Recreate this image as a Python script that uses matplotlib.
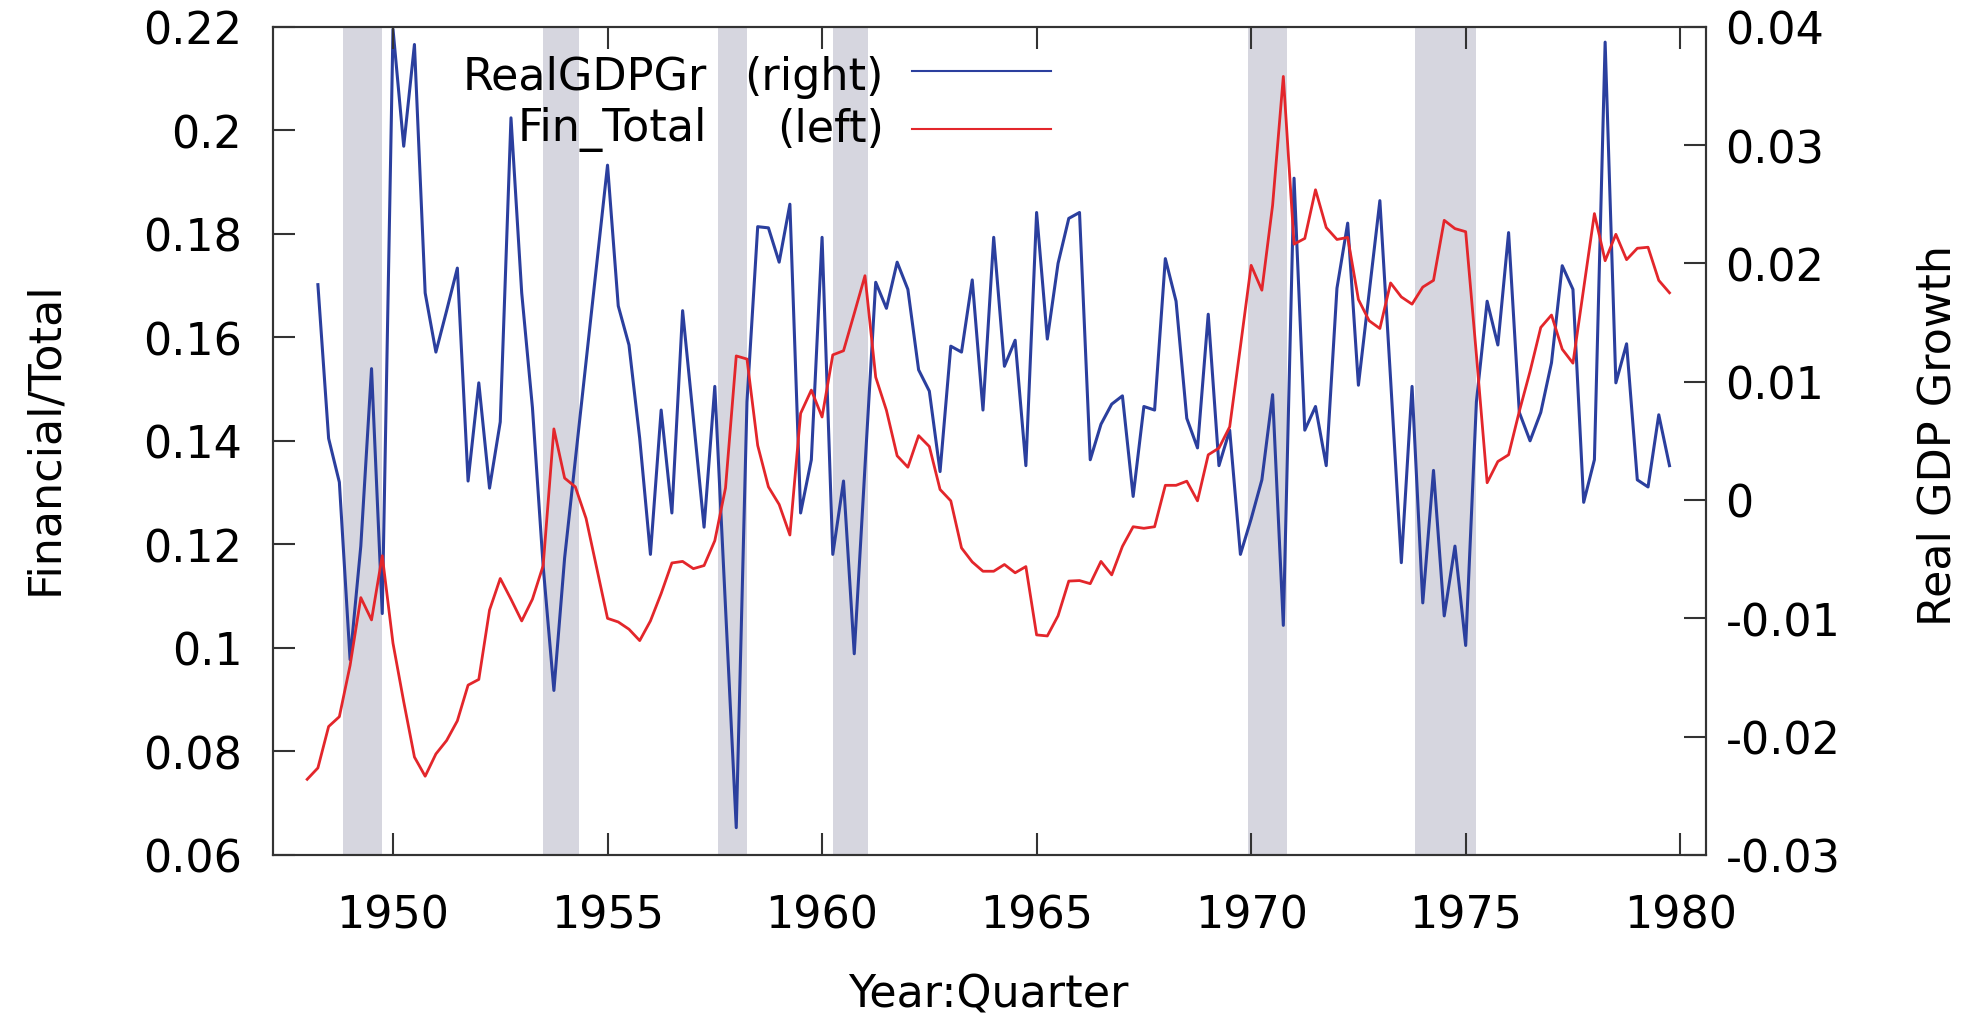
import numpy as np
import pandas as pd
import matplotlib
matplotlib.use("Agg")
import matplotlib.pyplot as plt
from matplotlib.ticker import FuncFormatter

# quarterly series, 1948Q1 .. 1979Q4
quarters = pd.period_range("1948Q1", "1979Q4", freq="Q")

# Financial / Total (left axis), 1948Q1 onwards
fin_total = [
    0.0746, 0.0768, 0.0848, 0.0867, 0.0966, 0.1097, 0.1054, 0.1178,
    0.1009, 0.0896, 0.0789, 0.0752, 0.0795, 0.0821, 0.0859, 0.0928,
    0.0939, 0.1073, 0.1134, 0.1094, 0.1052, 0.1094, 0.1159, 0.1423,
    0.1328, 0.1311, 0.1250, 0.1153, 0.1057, 0.1050, 0.1036, 0.1014,
    0.1052, 0.1105, 0.1164, 0.1167, 0.1153, 0.1159, 0.1207, 0.1309,
    0.1564, 0.1558, 0.1391, 0.1311, 0.1277, 0.1218, 0.1453, 0.1498,
    0.1446, 0.1566, 0.1574, 0.1646, 0.1719, 0.1523, 0.1459, 0.1371,
    0.1349, 0.1410, 0.1389, 0.1306, 0.1284, 0.1193, 0.1166, 0.1148,
    0.1148, 0.1161, 0.1145, 0.1157, 0.1025, 0.1023, 0.1062, 0.1129,
    0.1130, 0.1124, 0.1167, 0.1141, 0.1196, 0.1234, 0.1231, 0.1234,
    0.1314, 0.1314, 0.1322, 0.1284, 0.1373, 0.1386, 0.1427, 0.1582,
    0.1739, 0.1691, 0.1855, 0.2104, 0.1780, 0.1791, 0.1885, 0.1812,
    0.1789, 0.1793, 0.1673, 0.1632, 0.1617, 0.1705, 0.1678, 0.1664,
    0.1697, 0.1710, 0.1826, 0.1810, 0.1804, 0.1566, 0.1319, 0.1360,
    0.1373, 0.1457, 0.1534, 0.1619, 0.1643, 0.1577, 0.1550, 0.1694,
    0.1839, 0.1748, 0.1799, 0.1750, 0.1772, 0.1774, 0.1710, 0.1686,
]

# real GDP growth (right axis), 1948Q2 onwards
gdp_growth = [
    0.0182, 0.0052, 0.0015, -0.0135, -0.0039, 0.0111, -0.0096, 0.0398,
    0.0299, 0.0385, 0.0175, 0.0125, 0.0160, 0.0196, 0.0016, 0.0099,
    0.0010, 0.0066, 0.0323, 0.0175, 0.0078, -0.0056, -0.0161, -0.0049,
    0.0034, 0.0117, 0.0200, 0.0283, 0.0164, 0.0131, 0.0052, -0.0046,
    0.0076, -0.0011, 0.0160, 0.0069, -0.0023, 0.0096, -0.0091, -0.0277,
    0.0083, 0.0231, 0.0230, 0.0201, 0.0250, -0.0011, 0.0034, 0.0222,
    -0.0046, 0.0016, -0.0130, 0.0028, 0.0184, 0.0162, 0.0201, 0.0178,
    0.0110, 0.0092, 0.0024, 0.0130, 0.0125, 0.0186, 0.0076, 0.0222,
    0.0113, 0.0135, 0.0029, 0.0243, 0.0136, 0.0200, 0.0238, 0.0243,
    0.0034, 0.0064, 0.0081, 0.0088, 0.0003, 0.0079, 0.0076, 0.0204,
    0.0168, 0.0069, 0.0044, 0.0157, 0.0029, 0.0059, -0.0046, -0.0016,
    0.0017, 0.0089, -0.0106, 0.0272, 0.0059, 0.0079, 0.0029, 0.0179,
    0.0234, 0.0097, 0.0175, 0.0253, 0.0102, -0.0053, 0.0096, -0.0087,
    0.0025, -0.0098, -0.0039, -0.0123, 0.0083, 0.0168, 0.0131, 0.0226,
    0.0074, 0.0050, 0.0074, 0.0116, 0.0198, 0.0178, -0.0002, 0.0034,
    0.0387, 0.0099, 0.0132, 0.0017, 0.0011, 0.0072, 0.0029,
]

# recessions (peak -> trough, fractional years)
rec_start = [1948.83, 1953.50, 1957.58, 1960.25, 1969.92, 1973.83]
rec_end = [1949.75, 1954.33, 1958.25, 1961.08, 1970.83, 1975.25]

left_ticks = [0.06, 0.08, 0.1, 0.12, 0.14, 0.16, 0.18, 0.2, 0.22]
right_ticks = [-0.03, -0.02, -0.01, 0, 0.01, 0.02, 0.03, 0.04]
year_ticks = [1950, 1955, 1960, 1965, 1970, 1975, 1980]

t = np.asarray(quarters.year + (quarters.quarter - 1) / 4.0, dtype=float)

plt.rcParams["font.family"] = ["DejaVu Sans"]
plt.rcParams["axes.unicode_minus"] = False
FS = 32
blue = "#2b3f9e"
red = "#e3262b"
frame = "#333333"

fig = plt.figure(figsize=(19.8, 10.2), dpi=100)
ax = fig.add_axes([0.1378, 0.1609, 0.7238, 0.8119])
ax2 = ax.twinx()
ax.set_zorder(ax2.get_zorder() + 1)
ax.patch.set_visible(False)

ax2.plot(t[1:], gdp_growth, color=blue, lw=2.2)
for a, b in zip(rec_start, rec_end):
    ax2.axvspan(a, b, color="#55557a", alpha=0.24, lw=0)
ax.plot(t, fin_total, color=red, lw=2.0)

ax.set_xlim(1947.2, 1980.6)
ax.set_ylim(0.06, 0.22)
ax2.set_ylim(-0.03, 0.04)
ax.set_xticks(year_ticks)
ax.set_yticks(left_ticks)
ax2.set_yticks(right_ticks)

fmt = FuncFormatter(lambda v, p: "%g" % round(v, 4))
ax.yaxis.set_major_formatter(fmt)
ax2.yaxis.set_major_formatter(fmt)

ax.tick_params(axis="x", direction="in", length=16, width=1.5, color=frame,
               labelsize=FS, pad=28, top=True)
ax.tick_params(axis="y", direction="in", length=16, width=1.5, color=frame,
               labelsize=FS, pad=22, right=False)
ax2.tick_params(axis="y", direction="in", length=16, width=1.5, color=frame,
                labelsize=FS, pad=14)
for a in (ax, ax2):
    for s in a.spines.values():
        s.set_color(frame)
        s.set_linewidth(1.5)

fig.text(0.0223, 0.5705, "Financial/Total", rotation=90, ha="center",
         va="center", fontsize=FS)
fig.text(0.979, 0.573, "Real GDP Growth", rotation=90, ha="center",
         va="center", fontsize=FS)
fig.text(0.4994, 0.0248, "Year:Quarter", ha="center", va="center", fontsize=FS)

# gnuplot-style key: right-justified text, sample line on the right
tr = ax.transAxes
ax.text(0.303, 0.940, "RealGDPGr", transform=tr, ha="right", va="center", fontsize=FS)
ax.text(0.4264, 0.940, "(right)", transform=tr, ha="right", va="center", fontsize=FS)
ax.text(0.303, 0.877, "Fin_Total", transform=tr, ha="right", va="center", fontsize=FS)
ax.text(0.4264, 0.877, "(left)", transform=tr, ha="right", va="center", fontsize=FS)
ax.plot([0.4458, 0.5427], [0.946, 0.946], transform=tr, color=blue, lw=1.5)
ax.plot([0.4458, 0.5427], [0.877, 0.877], transform=tr, color=red, lw=1.5)

fig.savefig("out.png", dpi=100)
